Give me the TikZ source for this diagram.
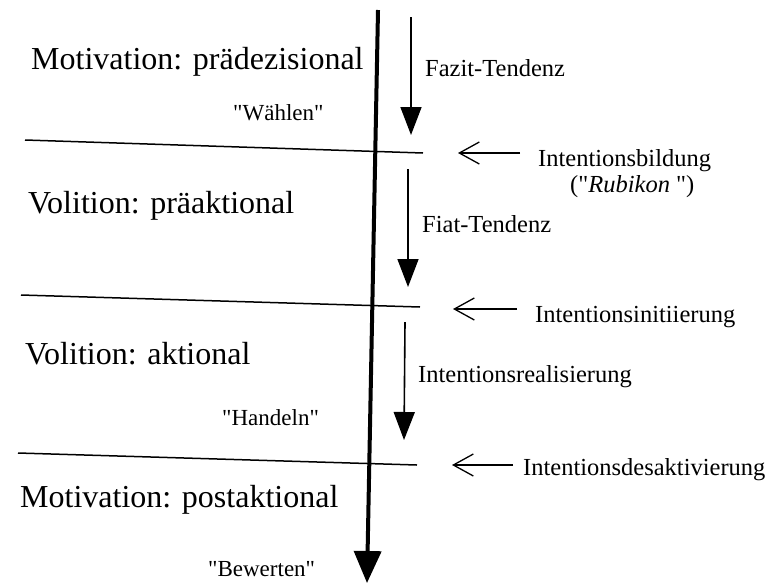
\documentclass[tikz,border=0pt]{standalone}
\usepackage{fontspec}
\setmainfont{Liberation Serif}
\usepackage{tikz}
\usetikzlibrary{arrows.meta}

\begin{document}
\begin{tikzpicture}[
    x=1pt, y=1pt,
    phase/.style={font=\fontsize{32}{36}\selectfont, anchor=base west, inner sep=0pt},
    verb/.style={font=\fontsize{23}{27}\selectfont, anchor=base west, inner sep=0pt},
    transit/.style={font=\fontsize{24.5}{28}\selectfont, anchor=base west, inner sep=0pt},
    mainarr/.style={-{Triangle[length=32pt,width=27pt]}, line width=4pt},
    tendarr/.style={-{Triangle[length=28pt,width=21pt]}, line width=1.6pt},
    border/.style={line width=1.5pt},
    transarr/.style={-{Straight Barb[length=20pt,width=22pt]}, line width=1.3pt},
]
\useasboundingbox (0,0) rectangle (773,-584);

% === Time axis ===
\coordinate (top) at (378,-10);
\coordinate (end) at (367,-583);
\draw[mainarr] (top) -- (end);

% === Phase borders ===
\coordinate (b1l) at (25,-140);  \coordinate (b1r) at (423,-153);
\coordinate (b2l) at (21,-295);  \coordinate (b2r) at (420,-307);
\coordinate (b3l) at (18,-453);  \coordinate (b3r) at (417,-465);
\draw[border] (b1l) -- (b1r);
\draw[border] (b2l) -- (b2r);
\draw[border] (b3l) -- (b3r);

% === Phases (left) ===
\node[phase] (p1) at (31,-69)  {Motivation: prädezisional};
\node[verb]  (w1) at (233,-120) {\textquotedbl Wählen\textquotedbl};
\node[phase] (p2) at (28,-213) {Volition: präaktional};
\node[phase] (p3) at (25,-364) {Volition: aktional};
\node[verb]  (w3) at (222,-425) {\textquotedbl Handeln\textquotedbl};
\node[phase] (p4) at (20,-507) {Motivation: postaktional};
\node[verb]  (w4) at (208,-576) {\textquotedbl Bewerten\textquotedbl};

% === Tendencies ===
\coordinate (t1s) at (411,-17);  \coordinate (t1e) at (411,-135);
\coordinate (t2s) at (408,-169); \coordinate (t2e) at (408,-287);
\coordinate (t3s) at (405,-322); \coordinate (t3e) at (404,-440);
\draw[tendarr] (t1s) -- (t1e);
\draw[tendarr] (t2s) -- (t2e);
\draw[tendarr] (t3s) -- (t3e);

\node[transit] (fazit) at (425,-76)  {Fazit-Tendenz};
\node[transit] (fiat)  at (422,-232) {Fiat-Tendenz};
\node[transit] (real)  at (418,-382) {Intentionsrealisierung};

% === Transitions (right) ===
\node[transit] (bild) at (538,-166) {Intentionsbildung};
\node[transit] (rubi) at (570,-192) {(\textquotedbl\textit{Rubikon} \textquotedbl)};
\node[transit] (init) at (535,-322) {Intentionsinitiierung};
\node[transit] (desa) at (523,-475) {Intentionsdesaktivierung};

\coordinate (m1s) at (520,-153); \coordinate (m1e) at (458,-153);
\coordinate (m2s) at (517,-309); \coordinate (m2e) at (453,-309);
\coordinate (m3s) at (513,-465); \coordinate (m3e) at (452,-465);
\draw[transarr] (m1s) -- (m1e);
\draw[transarr] (m2s) -- (m2e);
\draw[transarr] (m3s) -- (m3e);

\end{tikzpicture}
\end{document}
